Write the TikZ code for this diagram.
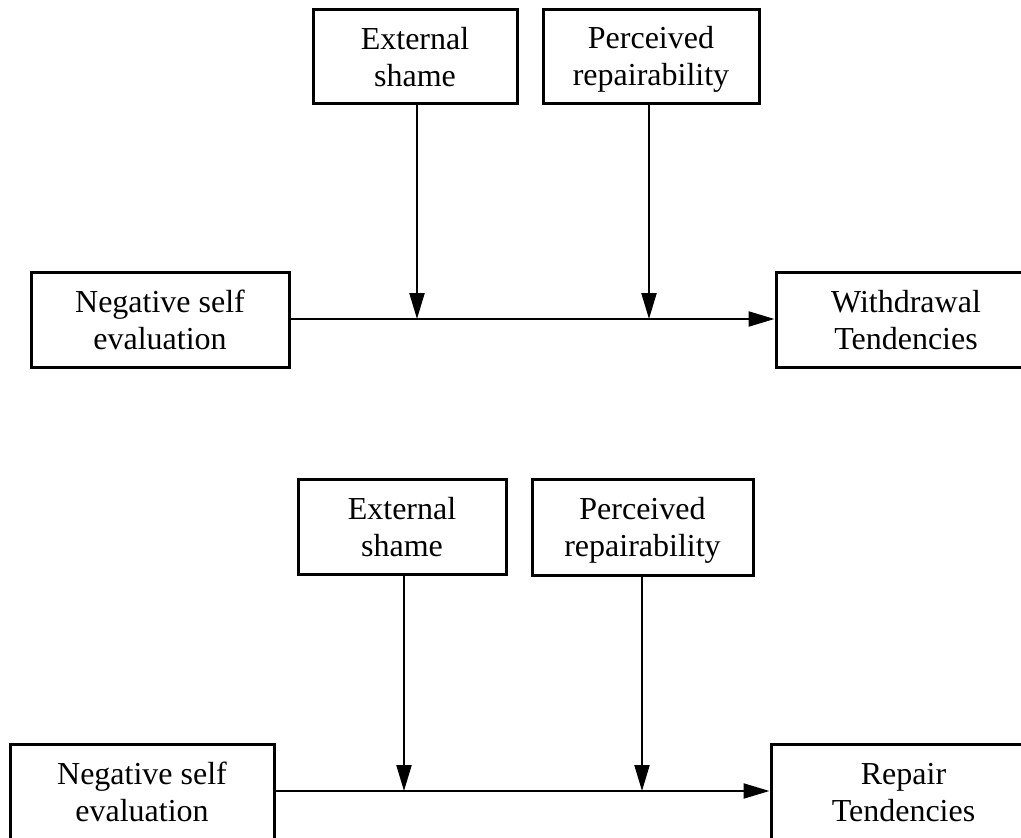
\documentclass[tikz,border=0pt]{standalone}
\usepackage{fontspec}
\setmainfont{Liberation Serif}
\usetikzlibrary{arrows.meta}
\newcommand\mystrut{\rule[-5pt]{0pt}{33pt}}
\tikzset{
  box/.style={draw, line width=3pt, rectangle, inner sep=0pt, align=center,
    font=\fontsize{32}{37}\selectfont},
  arr/.style={line width=2.2pt, -{Triangle[length=26pt,width=15pt]}},
  plain/.style={line width=2.2pt}
}
\begin{document}
\begin{tikzpicture}[x=1pt,y=-1pt]
\useasboundingbox (0,0) rectangle (1021,838);
\clip (0,0) rectangle (1021,838);
% top diagram
\node[box, minimum width=204pt, minimum height=94pt] (ext1) at (415,56) {\mystrut External\\\mystrut shame};
\node[box, minimum width=216pt, minimum height=94pt] (per1) at (651,56) {\mystrut Perceived\\\mystrut repairability};
\node[box, minimum width=258pt, minimum height=95pt] (neg1) at (160,319.5) {\mystrut Negative self\\\mystrut evaluation};
\node[box, minimum width=260pt, minimum height=95pt] (wd1) at (906,319.5) {\mystrut Withdrawal\\\mystrut Tendencies};
\coordinate (m1a) at (417,319);
\coordinate (m1b) at (649,319);
\draw[arr] (neg1.east |- m1a) -- (wd1.west |- m1a);
\draw[arr] (ext1.south -| m1a) -- (m1a);
\draw[arr] (per1.south -| m1b) -- (m1b);
% bottom diagram
\node[box, minimum width=208pt, minimum height=95pt] (ext2) at (402,526.5) {\mystrut External\\\mystrut shame};
\node[box, minimum width=221pt, minimum height=96pt] (per2) at (642.5,527) {\mystrut Perceived\\\mystrut repairability};
\node[box, minimum width=264pt, minimum height=95pt] (neg2) at (142,791.5) {\mystrut Negative self\\\mystrut evaluation};
\node[box, minimum width=265pt, minimum height=95pt] (rep2) at (903.5,791.5) {\mystrut Repair\\\mystrut Tendencies};
\coordinate (m2a) at (404,791);
\coordinate (m2b) at (642,791);
\draw[arr] (neg2.east |- m2a) -- (rep2.west |- m2a);
\draw[arr] (ext2.south -| m2a) -- (m2a);
\draw[arr] (per2.south -| m2b) -- (m2b);
\end{tikzpicture}
\end{document}
